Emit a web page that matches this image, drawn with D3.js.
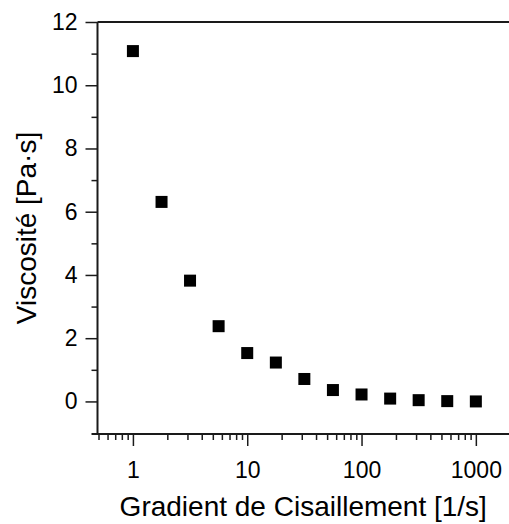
<!DOCTYPE html>
<html lang="fr">
<head>
    <meta charset="utf-8">
    <script src="https://d3js.org/d3.v7.min.js"></script>
    <title>Viscosité</title>
    <style>
        body { margin: 0; background: #fff; }
        text { font-family: "Liberation Sans", Arial, sans-serif; fill: #000; }
    </style>
</head>
<body>
    <svg width="509" height="524"></svg>
    <script>

        // shear rate [1/s] and viscosity [Pa·s]
        var shearRate = [1, 1.78, 3.16, 5.62, 10, 17.8, 31.6, 56.2, 100, 178, 316, 562, 1000];
        var viscosity = [11.08, 6.31, 3.82, 2.38, 1.53, 1.23, 0.71, 0.36, 0.22, 0.09, 0.04, 0.01, 0.0];

        var xTicks = [1, 10, 100, 1000];
        var yTicks = [0, 2, 4, 6, 8, 10, 12];
        var yMinor = [1, 3, 5, 7, 9, 11];

        var svg = d3.select("svg"),
            plotLeft = 97.5, plotRight = 509, plotTop = 22, plotBottom = 434;

        var xScale = d3.scaleLog().domain([0.49, 1950]).range([plotLeft, plotRight]),
            yScale = d3.scaleLinear().domain([-1.03, 12]).range([plotBottom, plotTop]);

        // minor x ticks: 2..9 in every decade inside the domain
        var xMinor = [];
        [0.1, 1, 10, 100, 1000].forEach(function (p) {
            for (var k = 2; k <= 9; k++) {
                var v = +(p * k).toPrecision(3);
                if (v >= 0.49 && v <= 1950) xMinor.push(v);
            }
        });

        var axisColor = "#1a1a1a";

        // x axis (bottom)
        var gx = svg.append("g")
            .attr("transform", "translate(0," + plotBottom + ")");
        gx.call(d3.axisBottom(xScale).tickValues(xTicks).tickFormat(d3.format("d"))
                .tickSize(12).tickPadding(16));
        gx.append("g").call(d3.axisBottom(xScale).tickValues(xMinor).tickFormat("").tickSize(6));
        gx.selectAll(".domain").remove();
        gx.selectAll("line").attr("stroke", axisColor).attr("stroke-width", 1.5);
        gx.selectAll("text").style("font-size", "23px").attr("fill", "#000");
        gx.append("line")
            .attr("x1", plotLeft - 6).attr("x2", plotRight)
            .attr("stroke", axisColor).attr("stroke-width", 2);

        // y axis (left)
        var gy = svg.append("g")
            .attr("transform", "translate(" + plotLeft + ",0)");
        gy.call(d3.axisLeft(yScale).tickValues(yTicks).tickSize(12).tickPadding(8));
        gy.append("g").call(d3.axisLeft(yScale).tickValues(yMinor).tickFormat("").tickSize(6));
        gy.selectAll(".domain").remove();
        gy.selectAll("line").attr("stroke", axisColor).attr("stroke-width", 1.5);
        gy.selectAll("text").style("font-size", "23px").attr("fill", "#000");
        gy.append("line")
            .attr("y1", plotTop).attr("y2", plotBottom)
            .attr("stroke", axisColor).attr("stroke-width", 2);

        // top frame line
        svg.append("line")
            .attr("x1", plotLeft).attr("x2", plotRight)
            .attr("y1", plotTop).attr("y2", plotTop)
            .attr("stroke", axisColor).attr("stroke-width", 2);

        // axis titles
        svg.append("text")
            .attr("x", (plotLeft + plotRight) / 2)
            .attr("y", 516)
            .attr("text-anchor", "middle")
            .style("font-size", "28px")
            .text("Gradient de Cisaillement [1/s]");

        svg.append("text")
            .attr("text-anchor", "middle")
            .attr("transform", "translate(36," + (plotTop + plotBottom) / 2 + ")rotate(-90)")
            .style("font-size", "28px")
            .text("Viscosité [Pa·s]");

        // data points: filled squares
        var size = 12;
        svg.append("g")
            .selectAll("rect")
            .data(shearRate.map(function (d, i) { return [d, viscosity[i]]; }))
            .enter()
            .append("rect")
            .attr("x", function (d) { return xScale(d[0]) - size / 2; })
            .attr("y", function (d) { return yScale(d[1]) - size / 2; })
            .attr("width", size)
            .attr("height", size)
            .attr("fill", "#000");

    </script>
</body>
</html>
